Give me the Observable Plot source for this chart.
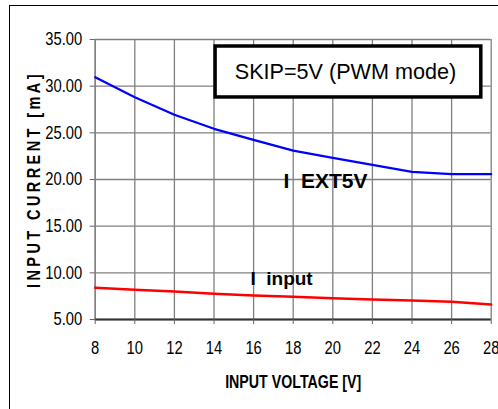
<!DOCTYPE html>
<html>
<head>
<meta charset="utf-8">
<script src="https://cdn.jsdelivr.net/npm/d3@7"></script>
<script src="https://cdn.jsdelivr.net/npm/@observablehq/plot@0.6"></script>
<style>
  html, body { margin: 0; padding: 0; background: #fff; }
  #wrap { position: relative; width: 498px; height: 409px; overflow: hidden; }
  #frame { position: absolute; left: 9px; top: 5px; width: 700px; height: 700px;
           border-left: 1.5px solid #000; border-top: 1.5px solid #000; pointer-events: none; }
  #chart { position: absolute; left: 0; top: 0; }
</style>
</head>
<body>
<div id="wrap"><div id="chart"></div><div id="frame"></div></div>
<script>
// Data
const voltage = [8, 10, 12, 14, 16, 18, 20, 22, 24, 26, 28];
const iExt5v  = [30.96, 28.82, 26.93, 25.43, 24.25, 23.10, 22.32, 21.57, 20.82, 20.57, 20.57];
const iInput  = [8.40, 8.18, 8.00, 7.75, 7.57, 7.43, 7.29, 7.14, 7.04, 6.90, 6.61];
const xTicks = [8, 10, 12, 14, 16, 18, 20, 22, 24, 26, 28];
const yTicks = [5, 10, 15, 20, 25, 30, 35];
const xTitle = "INPUT VOLTAGE [V]";
const yTitle = "INPUT CURRENT [mA]";
const legendText = "SKIP=5V (PWM mode)";
const legendBox = [{x1: 14.08, x2: 27.5, y1: 28.79, y2: 34.25}];
const seriesLabels = [
  {x: 17.51, y: 19.84, text: "I\u00a0\u00a0EXT5V", size: 21},
  {x: 15.84, y: 9.34, text: "I\u00a0\u00a0input", size: 19}
];

const ext = voltage.map((v, i) => ({v, c: iExt5v[i]}));
const inp = voltage.map((v, i) => ({v, c: iInput[i]}));

const regular = "'Liberation Sans', Arial, sans-serif";
const yFmt = d3.format(".2f");

const chart = Plot.plot({
  width: 498,
  height: 409,
  marginLeft: 94.7,
  marginRight: 7.3,
  marginTop: 39,
  marginBottom: 90,
  style: {fontFamily: regular, background: "transparent", color: "#000"},
  x: {domain: [8, 28]},
  y: {domain: [5, 35]},
  marks: [
    Plot.gridX(xTicks, {stroke: "#808080", strokeOpacity: 1, strokeWidth: 1.3}),
    Plot.gridY(yTicks, {stroke: "#808080", strokeOpacity: 1, strokeWidth: 1.3}),
    Plot.ruleX([8], {stroke: "#808080", strokeWidth: 1.3}),
    Plot.ruleY([5], {stroke: "#333", strokeWidth: 2}),
    Plot.axisX(xTicks, {tickSize: 5, tickPadding: 17, fontSize: 18, label: null, stroke: "#666"}),
    Plot.axisY(yTicks, {tickSize: 5, tickPadding: 8, fontSize: 18, label: null, stroke: "#666",
                        tickFormat: yFmt}),
    Plot.line(ext, {x: "v", y: "c", stroke: "#0000ff", strokeWidth: 2.2}),
    Plot.line(inp, {x: "v", y: "c", stroke: "#ff0000", strokeWidth: 2.5}),
    Plot.rect(legendBox, {x1: "x1", x2: "x2", y1: "y1", y2: "y2", fill: "#fff", stroke: "#000", strokeWidth: 3.5}),
    Plot.text(legendBox, {x: d => (d.x1 + d.x2) / 2 - 0.15, y: d => (d.y1 + d.y2) / 2, text: () => legendText,
                          fontSize: 21.6, fill: "#000"}),
    Plot.text(seriesLabels.slice(0, 1), {x: "x", y: "y", text: "text", textAnchor: "start", fontSize: 21,
                             fontWeight: "bold", fill: "#000"}),
    Plot.text(seriesLabels.slice(1), {x: "x", y: "y", text: "text", textAnchor: "start", fontSize: 19,
                             fontWeight: "bold", fill: "#000"}),
    Plot.text([xTitle], {frameAnchor: "bottom", dy: 63, lineAnchor: "middle", textAnchor: "middle",
                         fontSize: 18, fontWeight: "bold", fill: "#000", className: "xtitle"}),
    Plot.text([yTitle], {frameAnchor: "left", dx: -61, rotate: -90, textAnchor: "middle", lineAnchor: "middle",
                         fontSize: 18, fontWeight: "bold", fill: "#000", className: "ytitle"})
  ]
});
document.getElementById("chart").appendChild(chart);

function condense(el, factor, target) {
  const L = el.getComputedTextLength();
  el.setAttribute("textLength", target != null ? target : L * factor);
  el.setAttribute("lengthAdjust", "spacingAndGlyphs");
}
const tickStrings = new Set([...xTicks.map(String), ...yTicks.map(yFmt)]);
chart.querySelectorAll("text").forEach(t => {
  if (t.closest(".xtitle") || t.closest(".ytitle")) return;
  if (tickStrings.has(t.textContent.trim())) condense(t, 0.82);
});
chart.querySelectorAll(".xtitle text").forEach(t => condense(t, 0.79));
chart.querySelectorAll(".ytitle text").forEach(t => {
  t.style.letterSpacing = "4.2px";
  condense(t, 1, 217);
});
</script>
</body>
</html>
